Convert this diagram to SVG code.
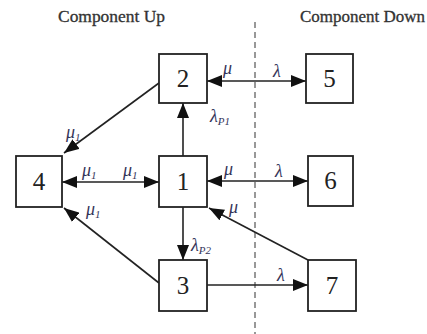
<svg xmlns="http://www.w3.org/2000/svg" width="427" height="334" viewBox="0 0 427 334">
<style>
.box{fill:#fff;stroke:#222;stroke-width:1.8}
.num{font-family:"Liberation Serif",serif;font-size:25px;fill:#222;text-anchor:middle}
.title{font-family:"Liberation Serif",serif;font-size:16px;fill:#333;stroke:#333;stroke-width:0.3}
.lab{font-family:"Liberation Serif",serif;font-style:italic;font-size:18px;fill:#35355a}
.sub{font-size:11px}
.conn line{stroke:#222;stroke-width:1.6}
</style>
<defs>
<marker id="ah" markerUnits="userSpaceOnUse" markerWidth="15" markerHeight="12" refX="15" refY="6" orient="auto-start-reverse">
<path d="M0,0 L15,6 L0,12 z" fill="#111"/>
</marker>
</defs>
<text class="title" x="58" y="22" textLength="107" lengthAdjust="spacingAndGlyphs">Component Up</text>
<text class="title" x="300" y="22" textLength="125" lengthAdjust="spacingAndGlyphs">Component Down</text>
<line x1="255" y1="22" x2="255" y2="334" stroke="#777" stroke-width="1.5" stroke-dasharray="6,4"/>
<g class="conn">
<line x1="207" y1="81" x2="306" y2="81" marker-start="url(#ah)" marker-end="url(#ah)"/>
<line x1="183" y1="156" x2="183" y2="103" marker-end="url(#ah)"/>
<line x1="159" y1="83" x2="64" y2="153" marker-end="url(#ah)"/>
<line x1="62" y1="182" x2="159" y2="182" marker-start="url(#ah)" marker-end="url(#ah)"/>
<line x1="159" y1="283" x2="64" y2="208" marker-end="url(#ah)"/>
<line x1="183" y1="207" x2="183" y2="260" marker-end="url(#ah)"/>
<line x1="207" y1="181" x2="308" y2="181" marker-start="url(#ah)" marker-end="url(#ah)"/>
<line x1="308" y1="260" x2="209" y2="208" marker-end="url(#ah)"/>
<line x1="207" y1="285" x2="308" y2="285" marker-end="url(#ah)"/>
</g>
<g id="n2"><rect class="box" x="159" y="54" width="48" height="49"/><text class="num" x="183" y="87">2</text></g>
<g id="n5"><rect class="box" x="306" y="54" width="47" height="49"/><text class="num" x="329.5" y="87">5</text></g>
<g id="n4"><rect class="box" x="16" y="156" width="46" height="51"/><text class="num" x="39" y="190">4</text></g>
<g id="n1"><rect class="box" x="159" y="156" width="48" height="51"/><text class="num" x="183" y="190">1</text></g>
<g id="n6"><rect class="box" x="308" y="156" width="45" height="50"/><text class="num" x="330.5" y="189">6</text></g>
<g id="n3"><rect class="box" x="159" y="260" width="48" height="51"/><text class="num" x="183" y="294">3</text></g>
<g id="n7"><rect class="box" x="308" y="260" width="48" height="51"/><text class="num" x="332" y="294">7</text></g>
<g id="labels">
<text class="lab" x="223" y="74">μ</text>
<text class="lab" x="273" y="77">λ</text>
<text class="lab" x="210" y="122">λ<tspan class="sub" dy="3">P1</tspan></text>
<text class="lab" x="66" y="138">μ<tspan class="sub" dy="3">1</tspan></text>
<text class="lab" x="82" y="176">μ<tspan class="sub" dy="3">1</tspan></text>
<text class="lab" x="123" y="176">μ<tspan class="sub" dy="3">1</tspan></text>
<text class="lab" x="86" y="215">μ<tspan class="sub" dy="3">1</tspan></text>
<text class="lab" x="224" y="175">μ</text>
<text class="lab" x="275" y="177">λ</text>
<text class="lab" x="229" y="213">μ</text>
<text class="lab" x="191" y="251">λ<tspan class="sub" dy="3">P2</tspan></text>
<text class="lab" x="277" y="281">λ</text>
</g>
</svg>
